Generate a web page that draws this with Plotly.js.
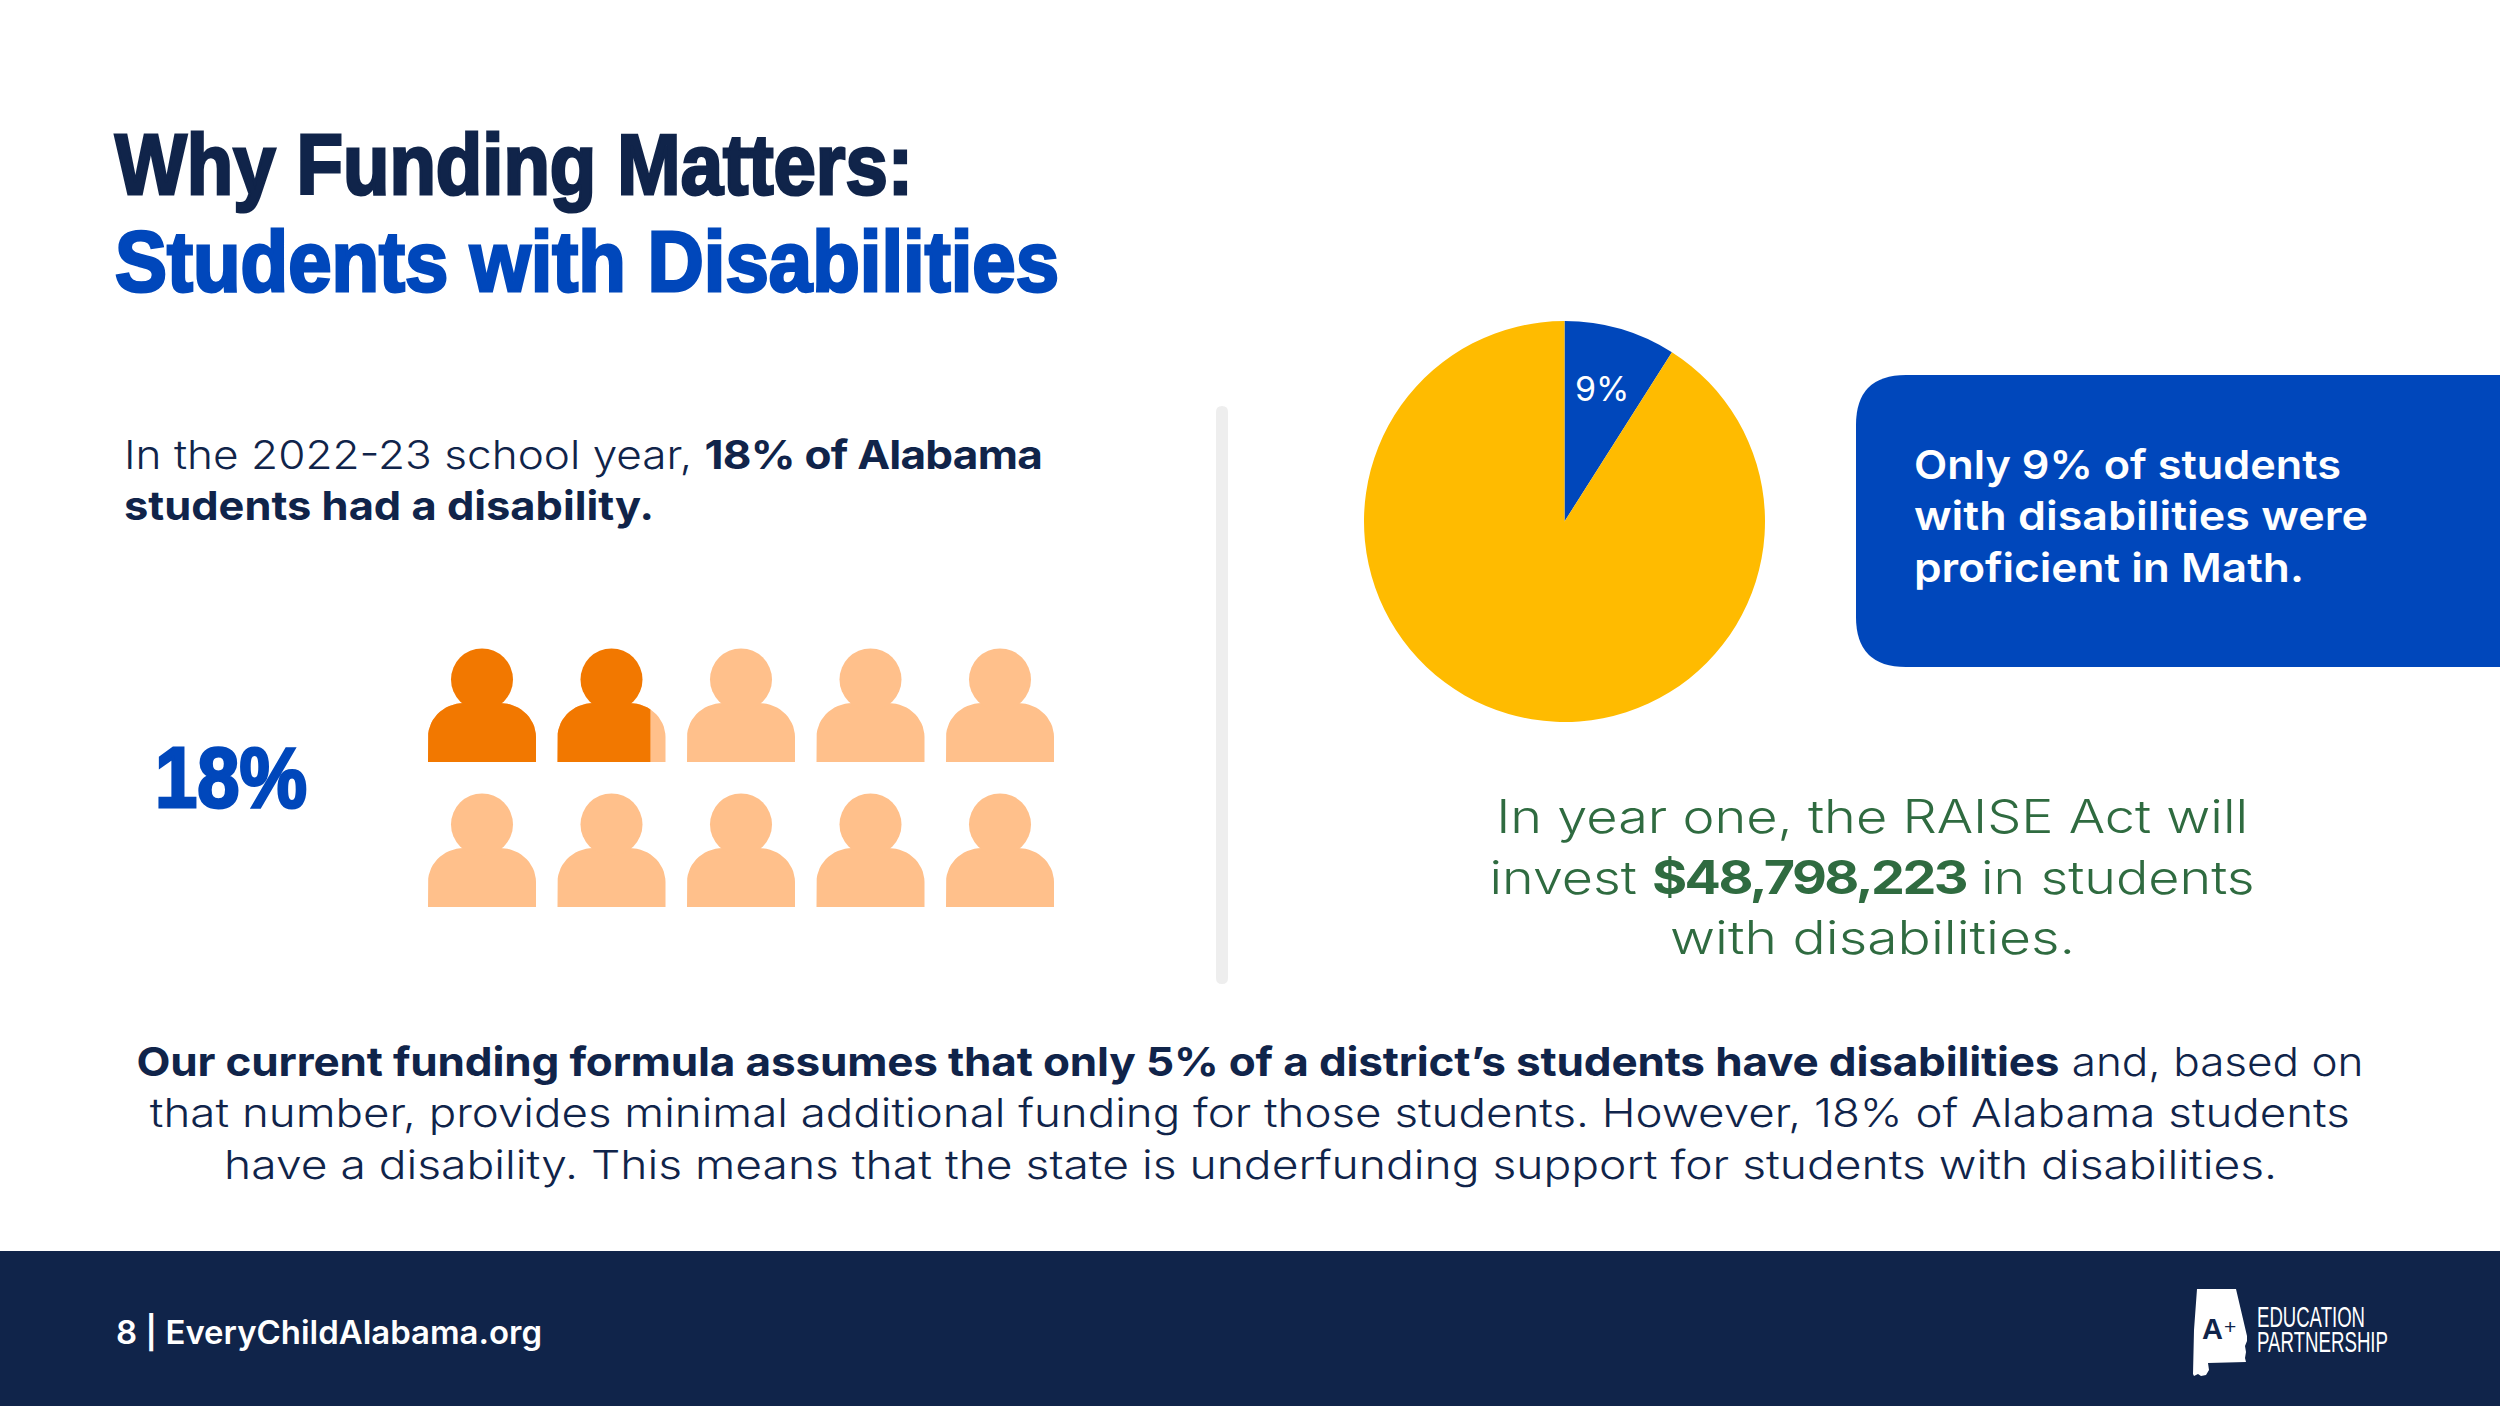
<!DOCTYPE html>
<html><head><meta charset="utf-8">
<script src="https://cdn.plot.ly/plotly-3.0.1.min.js"></script>
<style>html,body{margin:0;padding:0;background:#fff}#c{width:2500px;height:1406px}</style>
</head><body><div id="c"></div>
<script>
// ---- data ----
const pieLabels = ["Proficient in Math", "Not proficient in Math"];
const pieValues = [9, 91];
const pieLabelText = "9%";
const personRows = 2;
const personCols = 5;
const personFilled = [1, 0.86, 0, 0, 0, 0, 0, 0, 0, 0];
const titleLines = ["Why Funding Matters:", "Students with Disabilities"];
const statText = "18%";
const introLines = ["In the 2022-23 school year, <b>18% of Alabama</b>", "<b>students had a disability.</b>"];
const calloutLines = ["Only 9% of students", "with disabilities were", "proficient in Math."];
const raiseLines = ["In year one, the RAISE Act will", "invest <b>$48,798,223</b> in students", "with disabilities."];
const bodyLines = [
  "<b>Our current funding formula assumes that only 5% of a district’s students have disabilities</b> and, based on",
  "that number, provides minimal additional funding for those students. However, 18% of Alabama students",
  "have a disability. This means that the state is underfunding support for students with disabilities."
];
const footerText = "8 | EveryChildAlabama.org";
const logoLines = ["EDUCATION", "PARTNERSHIP"];

// ---- style ----
const NAVY = "#10244a", BLUE = "#0047bb", YELLOW = "#ffbb00", DARK = "#f27800", LIGHT = "#ffc08b", GREEN = "#2f6b40";
const HEAD = '"Liberation Sans",Arial,sans-serif';
const TEXT = 'Inter,"Open Sans",sans-serif';

// pictogram grid (axis units equal page pixels)
const colX = i => 482 + i * 129.5;
const rowBase = r => 762 + r * 145;
const bodyW = 108, bodyH = 59, shoulderX = 36, shoulderY = 34;

function bodyOutline(cx, base, share) {
  const l = cx - bodyW / 2, r = cx + bodyW / 2, top = base - bodyH;
  const clip = l + bodyW * share;
  const xs = [l], ys = [base];
  for (let a = 0; a <= 90; a += 6) {
    const t = a * Math.PI / 180;
    xs.push(l + shoulderX - shoulderX * Math.cos(t)); ys.push(top + shoulderY - shoulderY * Math.sin(t));
  }
  for (let a = 90; a >= 0; a -= 6) {
    const t = a * Math.PI / 180;
    xs.push(r - shoulderX + shoulderX * Math.cos(t)); ys.push(top + shoulderY - shoulderY * Math.sin(t));
  }
  xs.push(r); ys.push(base);
  return {x: xs.map(v => Math.min(v, clip)), y: ys};
}

const allIdx = personFilled.map((_, i) => i);
function bodies(idx, shareOf) {
  const X = [], Y = [];
  idx.forEach(i => {
    const o = bodyOutline(colX(i % personCols), rowBase(Math.floor(i / personCols)), shareOf(i));
    X.push(...o.x, null); Y.push(...o.y, null);
  });
  return {x: X, y: Y};
}
const lightB = bodies(allIdx, () => 1);
const darkB = bodies(allIdx.filter(i => personFilled[i] > 0), i => personFilled[i]);

const traces = [
  {type: "scatter", mode: "lines", x: lightB.x, y: lightB.y, fill: "toself", fillcolor: LIGHT, line: {width: 0, color: LIGHT}, hoverinfo: "skip", showlegend: false},
  {type: "scatter", mode: "markers", x: allIdx.map(i => colX(i % personCols)), y: allIdx.map(i => rowBase(Math.floor(i / personCols)) - 82.5),
   marker: {size: 62, color: allIdx.map(i => personFilled[i] > 0 ? DARK : LIGHT), line: {width: 0}}, hoverinfo: "skip", showlegend: false},
  {type: "scatter", mode: "lines", x: darkB.x, y: darkB.y, fill: "toself", fillcolor: DARK, line: {width: 0, color: DARK}, hoverinfo: "skip", showlegend: false},
  {type: "pie", labels: pieLabels, values: pieValues, textinfo: "none",
   sort: false, direction: "clockwise", rotation: 0, marker: {colors: [BLUE, YELLOW], line: {width: 0}},
   domain: {x: [1364 / 2500, 1765 / 2500], y: [1 - 722 / 1406, 1 - 321 / 1406]}, showlegend: false, hoverinfo: "skip"}
];

const shapes = [
  {type: "path", layer: "below", path: "M2500,375 L1906,375 Q1856,375 1856,425 L1856,617 Q1856,667 1906,667 L2500,667 Z", fillcolor: BLUE, line: {width: 0}},
  {type: "path", layer: "below", path: "M1216,412 Q1216,406 1222,406 Q1228,406 1228,412 L1228,978 Q1228,984 1222,984 Q1216,984 1216,978 Z", fillcolor: "#eeeeee", line: {width: 0}},
  {type: "rect", layer: "below", x0: 0, x1: 2500, y0: 1251, y1: 1406, fillcolor: NAVY, line: {width: 0}},
  {type: "path", layer: "below", path: "M2197,1289 L2236,1289 L2247,1336 L2247,1341 L2245,1346 L2246,1352 L2245,1358 L2246,1362 L2208,1363 L2209,1370 L2206,1375 L2201,1376 L2198,1374 L2194,1376 L2193,1374 L2194,1330 Z", fillcolor: "#ffffff", line: {width: 0}}
];

function ann(text, x, y, size, color, family, anchor, width, weight, boldSpacing) {
  return {text, x, y, xref: "x", yref: "y", xanchor: anchor, yanchor: "middle", showarrow: false,
    font: {family, size, color, weight: weight || 400}, align: anchor === "center" ? "center" : "left", borderpad: 0, _w: width, _b: boldSpacing || 0};
}
const annos = [
  ann(titleLines[0], 114, 164, 86, NAVY, HEAD, "left", 798, 700),
  ann(titleLines[1], 114, 261, 86, BLUE, HEAD, "left", 944, 700),
  ann(introLines[0], 123, 454, 40, NAVY, TEXT, "left", 918, 300, -0.7),
  ann(introLines[1], 123, 505, 40, NAVY, TEXT, "left", 530, 300),
  ann(statText, 231, 777, 86, BLUE, HEAD, "center", 152, 700),
  ann(calloutLines[0], 1913, 464, 40, "#fff", TEXT, "left", 427, 600),
  ann(calloutLines[1], 1913, 515, 40, "#fff", TEXT, "left", 454, 600),
  ann(calloutLines[2], 1913, 567, 40, "#fff", TEXT, "left", 390, 600),
  ann(raiseLines[0], 1872, 816, 46, GREEN, TEXT, "center", 752, 300),
  ann(raiseLines[1], 1872, 876.5, 46, GREEN, TEXT, "center", 765, 300, -2.2),
  ann(raiseLines[2], 1872, 937, 46, GREEN, TEXT, "center", 405, 300),
  ann(bodyLines[0], 1250, 1061, 40, NAVY, TEXT, "center", 2227, 300, -0.15),
  ann(bodyLines[1], 1250, 1112, 40, NAVY, TEXT, "center", 2200, 300),
  ann(bodyLines[2], 1250, 1164, 40, NAVY, TEXT, "center", 2053, 300),
  ann(footerText, 115, 1332, 32, "#fff", TEXT, "left", 426, 600),
  ann(pieLabelText, 1602, 388, 34, "#fff", TEXT, "center", 0, 400),
  ann("A", 2212, 1329, 29, NAVY, HEAD, "center", 0, 700),
  ann("+", 2230, 1326, 21, NAVY, HEAD, "center", 0, 400),
  ann(logoLines[0], 2256, 1317, 29, "#fff", HEAD, "left", 108, 400),
  ann(logoLines[1], 2256, 1342, 29, "#fff", HEAD, "left", 131, 400)
];
const widths = annos.map(a => a._w);
const boldSpacing = annos.map(a => a._b);
annos.forEach(a => { delete a._w; delete a._b; });

const layout = {
  width: 2500, height: 1406, margin: {l: 0, r: 0, t: 0, b: 0, pad: 0},
  paper_bgcolor: "#fff", plot_bgcolor: "rgba(0,0,0,0)", showlegend: false, hovermode: false,
  xaxis: {range: [0, 2500], visible: false, fixedrange: true},
  yaxis: {range: [1406, 0], visible: false, fixedrange: true},
  shapes, annotations: annos
};

Plotly.newPlot("c", traces, layout, {staticPlot: true, displayModeBar: false}).then(() => {
  const nodes = document.querySelectorAll("#c .annotation-text");
  nodes.forEach((n, i) => {
    const w = widths[i];
    if (!w) return;
    if (boldSpacing[i]) {
      n.querySelectorAll("tspan").forEach(t => {
        if ((t.getAttribute("style") || "").includes("bold")) t.style.letterSpacing = boldSpacing[i] + "px";
      });
    }
    n.setAttribute("textLength", w);
    n.setAttribute("lengthAdjust", "spacingAndGlyphs");
    if (i < 2 || i === 4) { n.style.stroke = n.style.fill; n.style.strokeWidth = "3px"; }
  });
});
</script></body></html>
